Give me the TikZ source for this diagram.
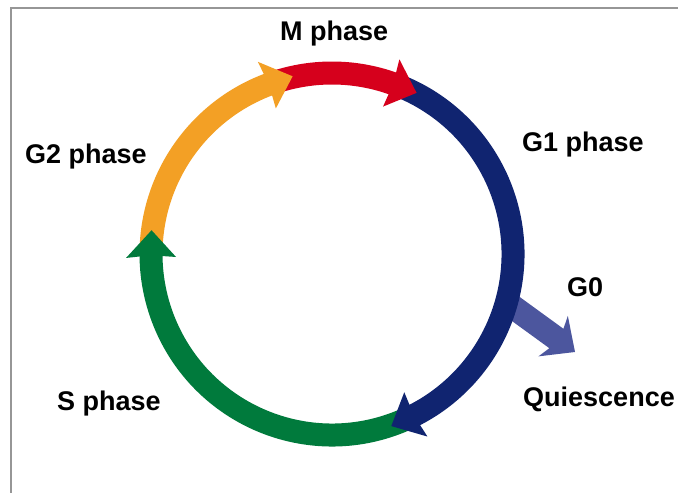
\documentclass[tikz,border=0pt]{standalone}
\usepackage{fontspec}
\setmainfont{Liberation Sans}
\definecolor{mred}{RGB}{214,0,28}
\definecolor{mnavy}{RGB}{16,36,112}
\definecolor{mgreen}{RGB}{0,122,60}
\definecolor{morange}{RGB}{243,160,37}
\definecolor{mgzero}{RGB}{76,86,158}
\definecolor{mframe}{RGB}{150,150,150}
\tikzset{
  lbl/.style={anchor=base west, inner sep=0pt, font=\fontsize{27}{32}\selectfont\bfseries},
  shaft/.style={line width=23pt, line cap=butt},
}
\newcommand\arrowhead[2]{% colour, tip angle
  \fill[#1] (#2:182pt) -- (#2+8.6:206pt) -- (#2+7.9:181pt) -- (#2+8.6:156pt) -- cycle;}
\newcommand\arrowshaft[3]{% colour, start angle, tip angle
  \draw[shaft, #1] (#2:181pt) arc[start angle=#2, end angle=#3+6, radius=181pt];}
\begin{document}
\begin{tikzpicture}[x=1pt,y=1pt]
\useasboundingbox (0,0) rectangle (678,493);
\fill[white] (0,0) rectangle (678,493);
\draw[mframe, line width=2pt] (11,0) -- (11,485) -- (678,485);
% G0 branch
\begin{scope}[shift={(575,141)}, rotate=-36]
  \fill[mgzero] (0,0) -- (-27,25) -- (-23,12) -- (-82,12) -- (-82,-12) -- (-23,-12) -- (-27,-25) -- cycle;
\end{scope}
\begin{scope}[shift={(332,239)}]
  \coordinate (C) at (0,0);
  \arrowshaft{mred}{107.2}{62.3}
  \arrowshaft{mnavy}{67}{-71}
  \arrowshaft{mgreen}{-66.3}{-187.5}
  \arrowshaft{morange}{177.2}{102.5}
  \arrowhead{mred}{62.3}
  \arrowhead{mnavy}{-71}
  \arrowhead{mgreen}{172.5}
  \arrowhead{morange}{102.5}
\end{scope}
\node[lbl] (m)  at (280,452) {M phase};
\node[lbl] (g1) at (522,341) {G1 phase};
\node[lbl] (g2) at (25,329) {G2 phase};
\node[lbl] (g0) at (567,196) {G0};
\node[lbl] (q)  at (523,86) {Quiescence};
\node[lbl] (s)  at (57,82) {S phase};
\end{tikzpicture}
\end{document}
